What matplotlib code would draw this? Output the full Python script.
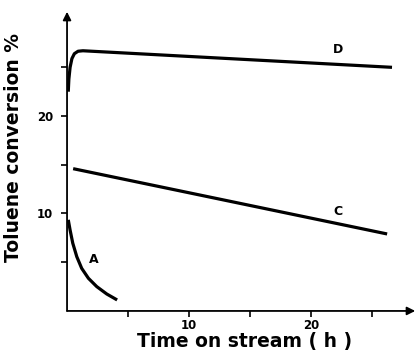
import matplotlib
matplotlib.use("Agg")
import matplotlib.pyplot as plt

# catalyst curves: time (h) vs toluene conversion (%)
t_a = [0.1, 0.25, 0.47, 0.8, 1.2, 1.75, 2.43, 3.25, 4.1]
conv_a = [9.35, 8.3, 6.95, 5.56, 4.37, 3.35, 2.5, 1.74, 1.13]

t_c = [0.5, 26.2]
conv_c = [14.6, 7.9]

t_d = [0.1, 0.15, 0.25, 0.4, 0.6, 0.9, 1.3, 26.6]
conv_d = [22.5, 23.8, 25.0, 25.9, 26.4, 26.65, 26.7, 25.0]

labels = ["A", "C", "D"]
label_pos = [(2.2, 5.3), (22.2, 10.2), (22.2, 26.8)]

x_ticks = [5, 10, 15, 20, 25]
x_ticklabels = ["", "10", "", "20", ""]
y_ticks = [5, 10, 15, 20, 25]
y_ticklabels = ["", "10", "", "20", ""]

plt.rcParams['font.family'] = ['DejaVu Sans']

fig = plt.figure(figsize=(4.19, 3.57), dpi=100)
ax = fig.add_axes([0.160, 0.129, 0.831, 0.838])

for t, c in [(t_a, conv_a), (t_c, conv_c), (t_d, conv_d)]:
    ax.plot(t, c, color='black', lw=2.3, solid_capstyle='butt')

for lab, (x, y) in zip(labels, label_pos):
    ax.text(x, y, lab, fontsize=9, fontweight='bold', ha='center', va='center')

ax.set_xlim(0, 28.5)
ax.set_ylim(0, 30.7)
for s in ['top', 'right', 'left', 'bottom']:
    ax.spines[s].set_visible(False)

# axes drawn as arrows
ax.annotate('', xy=(1.0, 0), xytext=(0, 0), xycoords='axes fraction',
            arrowprops=dict(arrowstyle='-|>', color='black', lw=1.3,
                            mutation_scale=12, shrinkA=0, shrinkB=0))
ax.annotate('', xy=(0, 1.0), xytext=(0, 0), xycoords='axes fraction',
            arrowprops=dict(arrowstyle='-|>', color='black', lw=1.3,
                            mutation_scale=12, shrinkA=0, shrinkB=0))

ax.set_xticks(x_ticks)
ax.set_xticklabels(x_ticklabels)
ax.set_yticks(y_ticks)
ax.set_yticklabels(y_ticklabels)
ax.tick_params(direction='out', length=4, width=1.2, labelsize=8.5)
ax.tick_params(axis='x', pad=2)
ax.tick_params(axis='y', pad=6)
for lab in ax.get_xticklabels() + ax.get_yticklabels():
    lab.set_fontweight('bold')

ax.set_xlabel('Time on stream ( h )', fontsize=13.5, fontweight='bold')
ax.set_ylabel('Toluene conversion %', fontsize=13.5, fontweight='bold')
ax.xaxis.set_label_coords(0.51, -0.072)
ax.yaxis.set_label_coords(-0.126, 0.547)

fig.savefig('out.png', dpi=100)
